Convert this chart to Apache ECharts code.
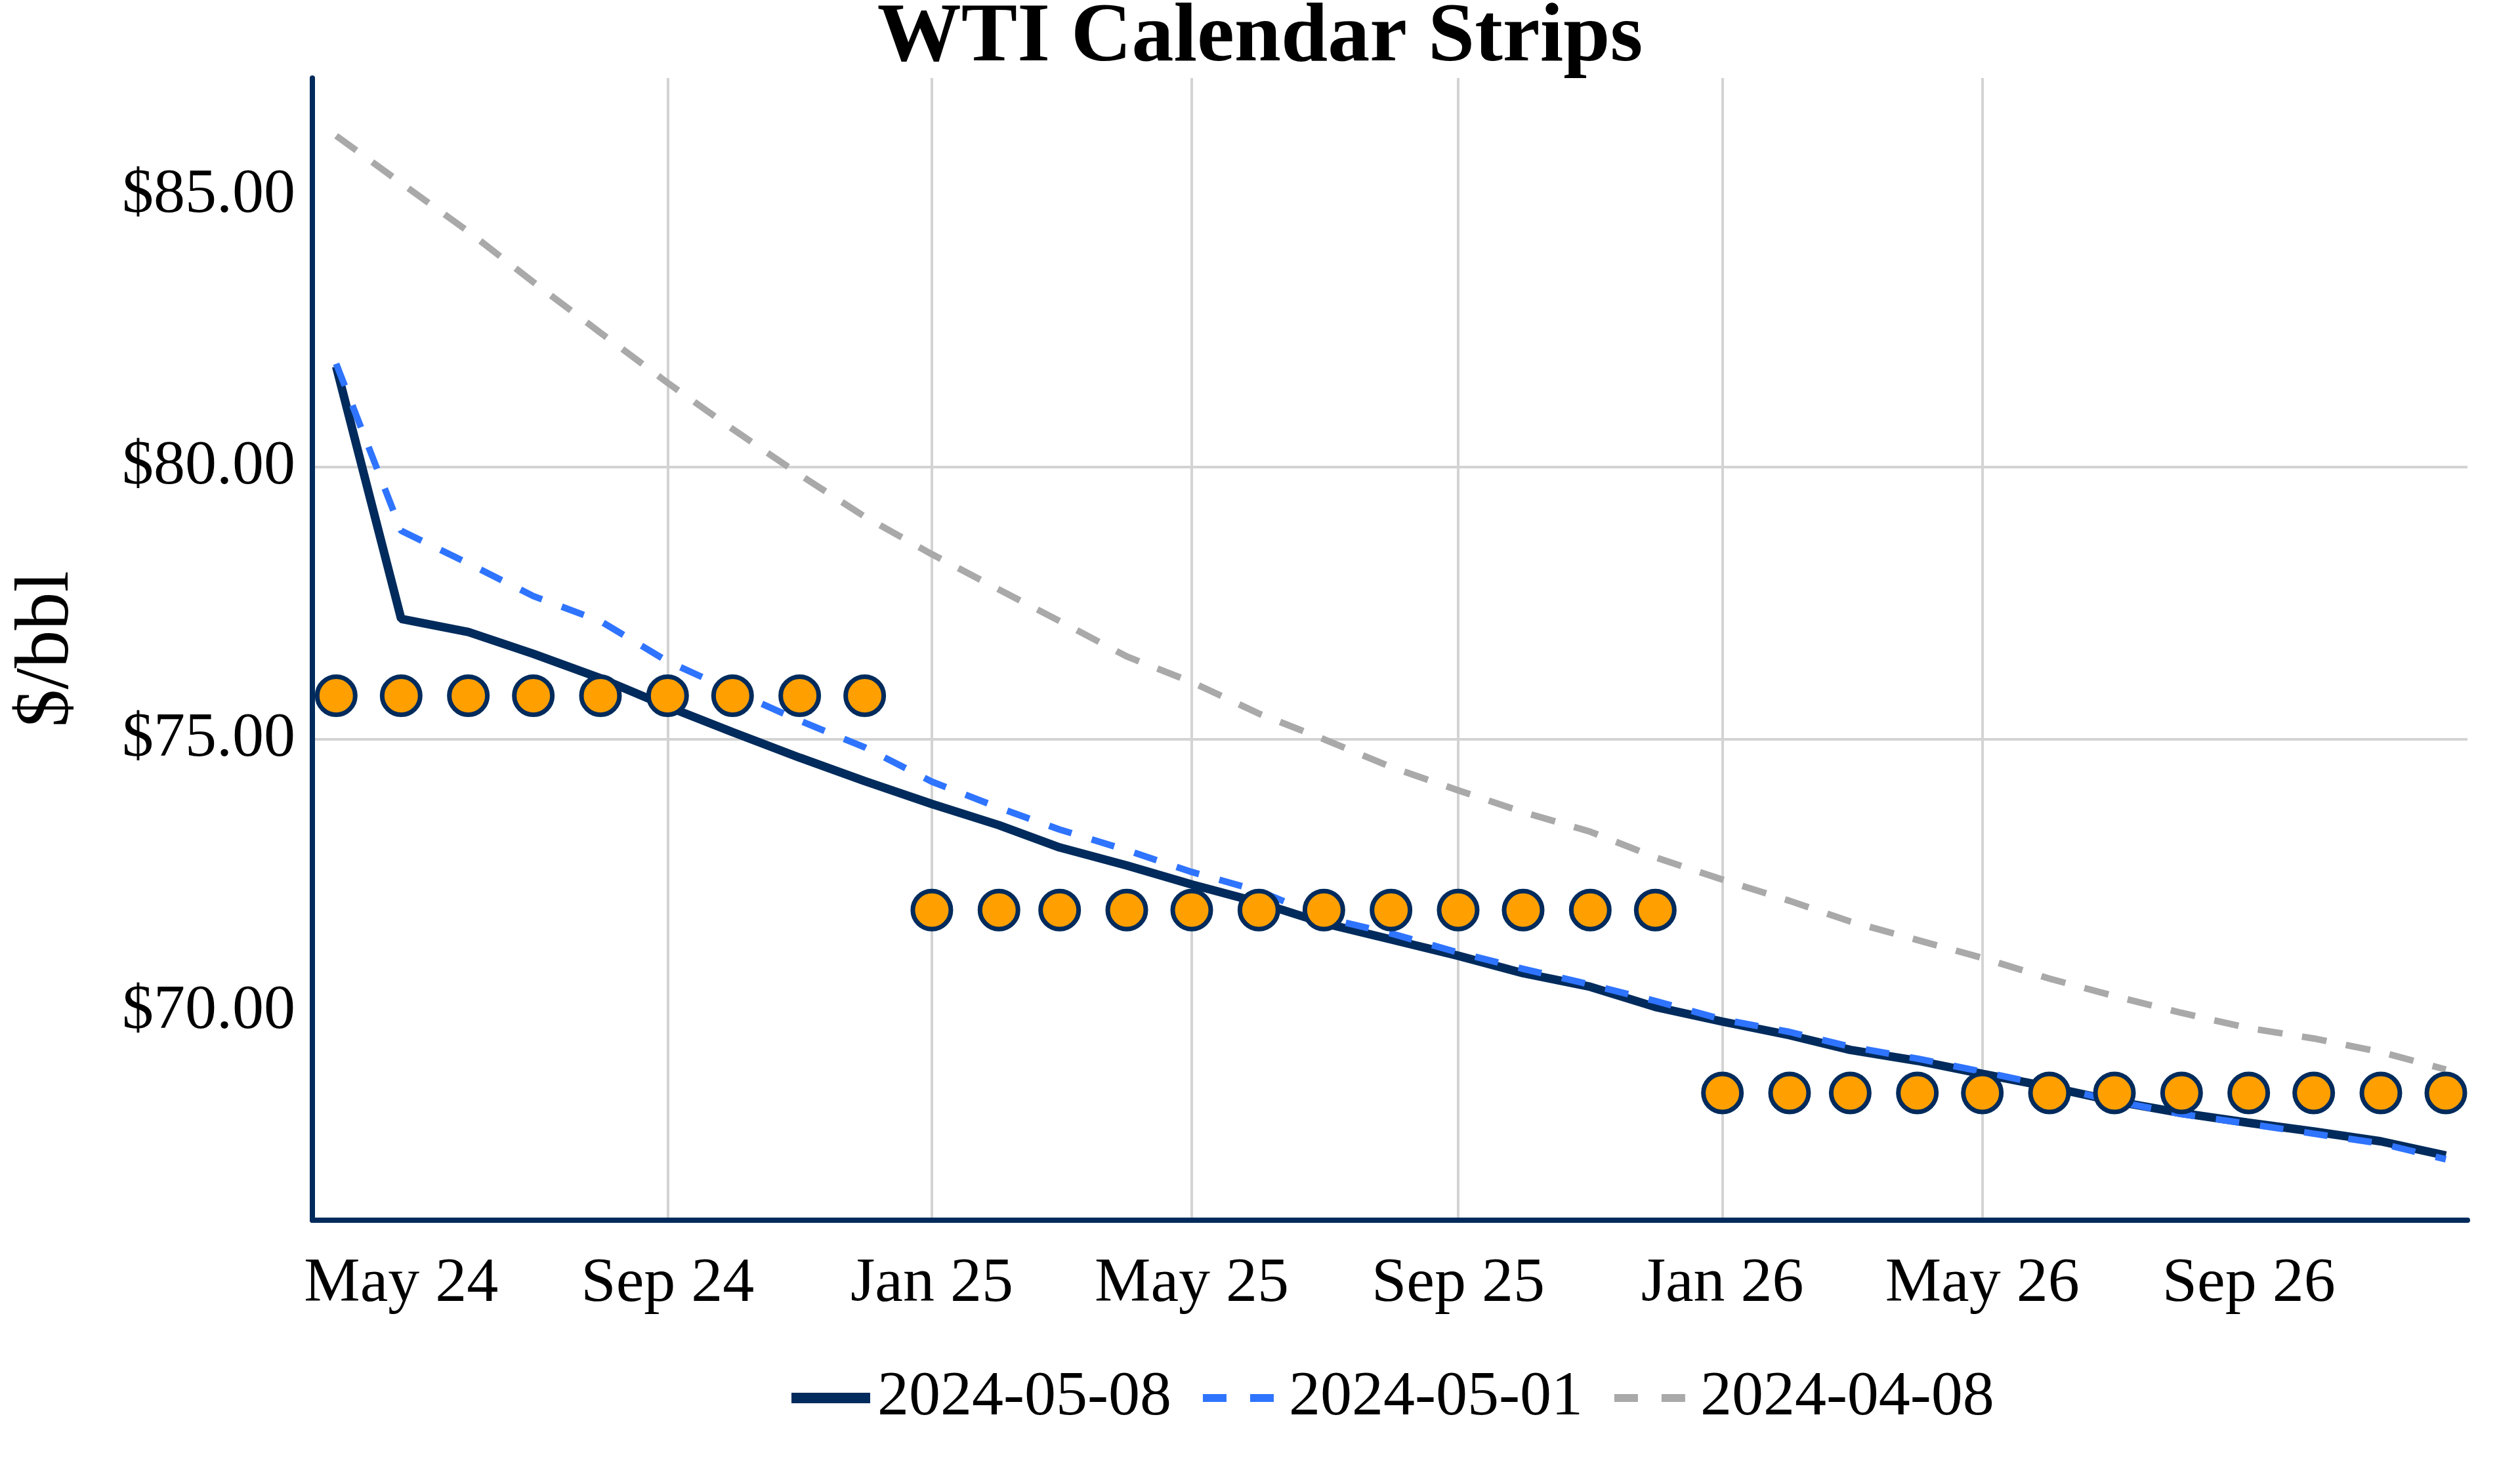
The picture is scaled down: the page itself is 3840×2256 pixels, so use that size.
<!DOCTYPE html>
<html>
<head>
<meta charset="utf-8">
<script src="https://cdn.jsdelivr.net/npm/echarts@6/dist/echarts.min.js"></script>
<style>
html,body{margin:0;padding:0;background:#ffffff;}
#chart{width:3840px;height:2256px;}
</style>
</head>
<body>
<div id="chart"></div>
<script>
// ---- Data ----
const contractMonths = [
  '2024-04-01','2024-05-01','2024-06-01','2024-07-01','2024-08-01','2024-09-01','2024-10-01','2024-11-01','2024-12-01',
  '2025-01-01','2025-02-01','2025-03-01','2025-04-01','2025-05-01','2025-06-01','2025-07-01','2025-08-01','2025-09-01','2025-10-01','2025-11-01','2025-12-01',
  '2026-01-01','2026-02-01','2026-03-01','2026-04-01','2026-05-01','2026-06-01','2026-07-01','2026-08-01','2026-09-01','2026-10-01','2026-11-01','2026-12-01'
];
const curve20240508 = [
  81.85, 77.21, 76.97, 76.57, 76.12, 75.60, 75.13, 74.66, 74.23,
  73.81, 73.42, 73.01, 72.68, 72.33, 72.00, 71.62, 71.32, 71.02, 70.70, 70.45, 70.08,
  69.81, 69.56, 69.29, 69.09, 68.85, 68.61, 68.35, 68.13, 67.95, 67.79, 67.61, 67.35
];
const curve20240501 = [
  81.90, 78.83, 78.23, 77.63, 77.17, 76.43, 75.89, 75.34, 74.85,
  74.22, 73.74, 73.34, 72.96, 72.56, 72.21, 71.72, 71.43, 71.08, 70.78, 70.49, 70.19,
  69.85, 69.62, 69.35, 69.13, 68.89, 68.63, 68.35, 68.11, 67.93, 67.75, 67.57, 67.28
];
const curve20240408 = [
  86.09, 85.22, 84.33, 83.40, 82.47, 81.55, 80.70, 79.86, 79.09,
  78.40, 77.75, 77.17, 76.52, 76.05, 75.47, 75.00, 74.49, 74.06, 73.66, 73.30, 72.83,
  72.42, 72.03, 71.65, 71.31, 70.98, 70.60, 70.28, 69.97, 69.69, 69.50, 69.25, 68.93
];
const stripYears = ['2024', '2025', '2026'];
const stripValues = [75.80, 71.86, 68.50];
const seriesNames = ['2024-05-08', '2024-05-01', '2024-04-08'];
const xTickDates = ['2024-05-01','2024-09-01','2025-01-01','2025-05-01','2025-09-01','2026-01-01','2026-05-01','2026-09-01'];
const yTickValues = [70, 75, 80, 85];
const xRange = ['2024-03-21', '2026-12-11'];
const yRange = [66.16, 87.15];

// ---- Helpers ----
const MONTHS = ['Jan','Feb','Mar','Apr','May','Jun','Jul','Aug','Sep','Oct','Nov','Dec'];
const toTime = s => new Date(s + 'T00:00:00').getTime();
const pairs = vals => contractMonths.map((m, i) => [toTime(m), vals[i]]);
const stripPoints = contractMonths.map(m => {
  const yi = stripYears.indexOf(m.slice(0, 4));
  return [toTime(m), stripValues[yi]];
});

const FONT = 'Liberation Serif';
const NAVY = '#002B5C';
const BLUE = '#2F74FF';
const GRAY = '#A9A9A9';
const ORANGE = '#FF9F00';
const NOSYM = {color: 'rgba(0,0,0,0)', borderWidth: 0, borderColor: 'rgba(0,0,0,0)'};

const chart = echarts.init(document.getElementById('chart'), null, {renderer: 'canvas'});
chart.setOption({
  animation: false,
  backgroundColor: '#ffffff',
  title: {
    text: 'WTI Calendar Strips',
    left: 'center',
    top: -5,
    padding: 0,
    textStyle: {fontFamily: FONT, fontWeight: 'bold', fontSize: 128, color: '#000000'}
  },
  grid: {left: 476, right: 80, top: 119, bottom: 396, containLabel: false},
  legend: {
    left: 1198,
    top: 2081,
    padding: 0,
    itemWidth: 120,
    itemHeight: 30,
    itemGap: 42,
    itemStyle: NOSYM,
    textStyle: {fontFamily: FONT, fontSize: 96, color: '#000000', lineHeight: 100, padding: [0, 0, 0, 6]},
    data: [
      {name: seriesNames[0], itemStyle: NOSYM, lineStyle: {width: 16, color: NAVY}},
      {name: seriesNames[1], itemStyle: NOSYM, lineStyle: {width: 12, color: BLUE, type: [36, 36]}},
      {name: seriesNames[2], itemStyle: NOSYM, lineStyle: {width: 12, color: GRAY, type: [36, 36]}}
    ]
  },
  xAxis: {
    type: 'value',
    min: toTime(xRange[0]),
    max: toTime(xRange[1]),
    axisLine: {show: true, onZero: false, lineStyle: {color: NAVY, width: 8}},
    axisTick: {show: false, customValues: xTickDates.map(toTime)},
    axisLabel: {
      customValues: xTickDates.map(toTime),
      fontFamily: FONT, fontSize: 96, color: '#000000', margin: 50,
      formatter: v => { const d = new Date(v); return MONTHS[d.getMonth()] + ' ' + String(d.getFullYear()).slice(2); }
    },
    splitLine: {show: true, showMinLine: false, showMaxLine: false, lineStyle: {color: '#D3D3D3', width: 4}}
  },
  yAxis: {
    type: 'value',
    min: yRange[0],
    max: yRange[1],
    name: '$/bbl',
    nameLocation: 'middle',
    nameGap: 345,
    nameTextStyle: {fontFamily: FONT, fontSize: 116, color: '#000000'},
    axisLine: {show: true, onZero: false, lineStyle: {color: NAVY, width: 8}},
    axisTick: {show: false, customValues: yTickValues},
    axisLabel: {
      customValues: yTickValues,
      fontFamily: FONT, fontSize: 96, color: '#000000', margin: 26,
      formatter: v => '$' + v.toFixed(2)
    },
    splitLine: {show: true, showMinLine: false, showMaxLine: false, lineStyle: {color: '#D3D3D3', width: 4}}
  },
  series: [
    {
      name: seriesNames[0], type: 'line', data: pairs(curve20240508),
      symbol: 'none', showSymbol: false,
      lineStyle: {color: NAVY, width: 13},
      itemStyle: {color: NAVY}, z: 3
    },
    {
      name: seriesNames[1], type: 'line', data: pairs(curve20240501),
      symbol: 'none', showSymbol: false,
      lineStyle: {color: BLUE, width: 10, type: [36, 32]},
      itemStyle: {color: BLUE}, z: 4
    },
    {
      name: seriesNames[2], type: 'line', data: pairs(curve20240408),
      symbol: 'none', showSymbol: false,
      lineStyle: {color: GRAY, width: 10, type: [38, 30]},
      itemStyle: {color: GRAY}, z: 3
    },
    {
      name: 'Calendar Strip', type: 'scatter', data: stripPoints,
      symbol: 'circle', symbolSize: 58,
      itemStyle: {color: ORANGE, borderColor: NAVY, borderWidth: 7, opacity: 1},
      z: 5
    }
  ]
});
</script>
</body>
</html>
